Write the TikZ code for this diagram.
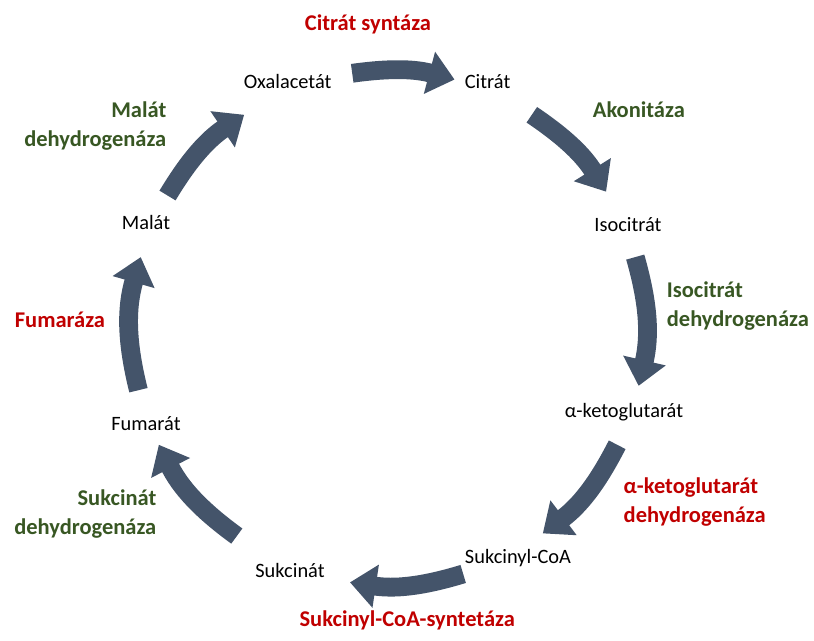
\documentclass[tikz,border=0pt]{standalone}
\usepackage{fontspec}
\setmainfont{Carlito}
\usetikzlibrary{arrows.meta}
\definecolor{arrowblue}{HTML}{44546A}
\definecolor{enzred}{HTML}{C00000}
\definecolor{enzgreen}{HTML}{385723}

\begin{document}
\begin{tikzpicture}
          %% KREBSUV CYKLUS

          \tikzstyle{flow}=[draw=arrowblue,line width=4.7mm,-{Triangle[length=6.5mm,width=10.5mm]}]
          \tikzstyle{metab}=[font=\fontsize{14.5}{17}\selectfont,inner sep=1pt]
          \tikzstyle{enz}=[font=\fontsize{16}{20.5}\selectfont\bfseries,inner sep=1pt]

          \useasboundingbox (-9.7,-7.825) rectangle (10.65,8.2);

          % metabolity
          \node[metab] (OAA) at (-2.51,6.15) {Oxalacetát};
          \node[metab] (CIT) at (2.49,6.15) {Citrát};
          \node[metab] (ICT) at (6.0,2.58) {Isocitrát};
          \node[metab] (AKG) at (5.9,-2.1) {α-ketoglutarát};
          \node[metab] (SCA) at (3.25,-5.75) {Sukcinyl-CoA};
          \node[metab] (SUC) at (-2.45,-6.05) {Sukcinát};
          \node[metab] (FUM) at (-6.05,-2.38) {Fumarát};
          \node[metab] (MAL) at (-6.05,2.63) {Malát};

          % enzymy
          \tikzstyle{every node}=[text=enzred]
          \node[enz] (E1) at (-0.5,7.58) {Citrát syntáza};
          \node[enz,anchor=west,align=left] (E4) at (5.85,-4.35) {α-ketoglutarát\\dehydrogenáza};
          \node[enz] (E5) at (0.48,-7.3) {Sukcinyl-CoA-syntetáza};
          \node[enz] (E7) at (-8.2,0.2) {Fumaráza};

          \tikzstyle{every node}=[text=enzgreen]
          \node[enz,anchor=west] (E2) at (5.08,5.45) {Akonitáza};
          \node[enz,anchor=west,align=left] (E3) at (6.93,0.55) {Isocitrát\\dehydrogenáza};
          \node[enz,anchor=east,align=right] (E6) at (-5.75,-4.65) {Sukcinát\\dehydrogenáza};
          \node[enz,anchor=east,align=right] (E8) at (-5.5,5.05) {Malát\\dehydrogenáza};
          \tikzstyle{every node}=[]

          % sipky
          \coordinate (A1s) at (98:6.43);   \coordinate (A1e) at (75:6.43);
          \coordinate (A2s) at (56:6.43);   \coordinate (A2e) at (32:6.43);
          \coordinate (A3s) at (16:6.43);   \coordinate (A3e) at (-13:6.43);
          \coordinate (A4s) at (-27:6.43);  \coordinate (A4e) at (-53:6.43);
          \coordinate (A5s) at (-73:6.43);  \coordinate (A5e) at (-98.5:6.43);
          \coordinate (A6s) at (-126:6.43); \coordinate (A6e) at (-153:6.43);
          \coordinate (A7s) at (194:6.43);  \coordinate (A7e) at (164:6.43);
          \coordinate (A8s) at (149:6.43);  \coordinate (A8e) at (124:6.43);

          \path[flow] (A1s) to[bend left=11.5] (A1e);
          \path[flow] (A2s) to[bend left=12] (A2e);
          \path[flow] (A3s) to[bend left=14.5] (A3e);
          \path[flow] (A4s) to[bend left=13] (A4e);
          \path[flow] (A5s) to[bend left=12.75] (A5e);
          \path[flow] (A6s) to[bend left=13.5] (A6e);
          \path[flow] (A7s) to[bend left=15] (A7e);
          \path[flow] (A8s) to[bend left=12.5] (A8e);

\end{tikzpicture}
\end{document}
